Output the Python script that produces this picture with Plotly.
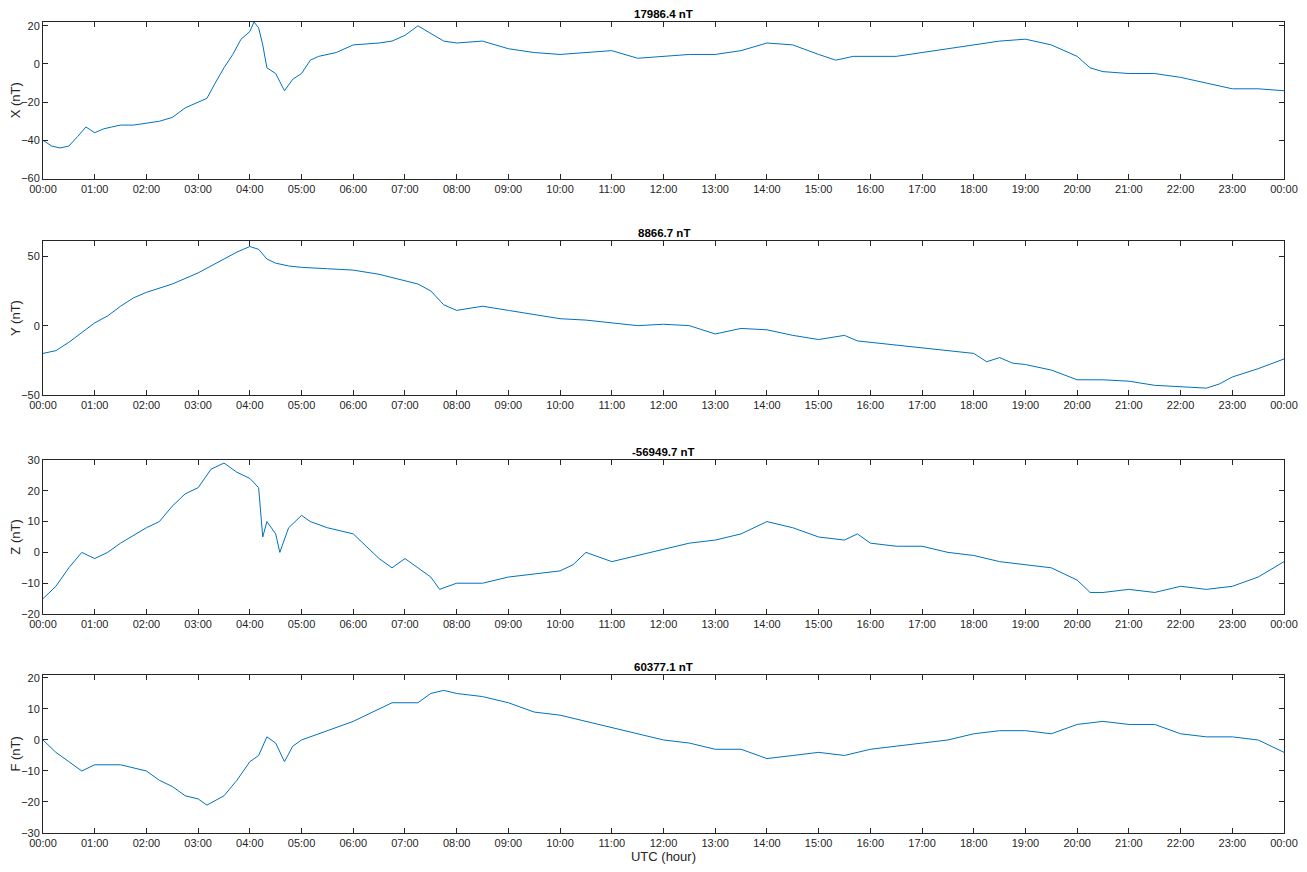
import pandas as pd
import plotly.graph_objects as go

# hour-of-day sample times and values (nT, baseline removed)
x_hours = [0, 0.17, 0.33, 0.5, 0.67, 0.83, 1, 1.17, 1.33, 1.5, 1.75, 2, 2.25, 2.5, 2.75, 3, 3.17, 3.33, 3.5,
           3.67, 3.83, 4, 4.08, 4.17, 4.25, 4.33, 4.5, 4.67, 4.83, 5, 5.17, 5.33, 5.67, 6, 6.5, 6.75, 7, 7.25,
           7.5, 7.75, 8, 8.5, 9, 9.5, 10, 10.5, 11, 11.5, 12, 12.5, 13, 13.5, 14, 14.5, 15, 15.33, 15.67, 16,
           16.5, 17, 17.5, 18, 18.5, 19, 19.5, 20, 20.25, 20.5, 21, 21.5, 22, 22.5, 23, 23.5, 24]
x_vals = [-40, -43, -44, -43, -38, -33, -36, -34, -33, -32, -32, -31, -30, -28, -23, -20, -18, -10, -2,
          5, 13, 17, 22, 19, 10, -2, -5, -14, -8, -5, 2, 4, 6, 10, 11, 12, 15, 20,
          16, 12, 11, 12, 8, 6, 5, 6, 7, 3, 4, 5, 5, 7, 11, 10, 5, 2, 4,
          4, 4, 6, 8, 10, 12, 13, 10, 4, -2, -4, -5, -5, -7, -10, -13, -13, -14]

y_hours = [0, 0.25, 0.5, 0.75, 1, 1.25, 1.5, 1.75, 2, 2.5, 3, 3.5, 3.75, 4, 4.17, 4.33, 4.5, 4.75, 5, 5.5,
           6, 6.5, 7, 7.25, 7.5, 7.75, 8, 8.5, 9, 9.5, 10, 10.5, 11, 11.5, 12, 12.5, 13, 13.5, 14, 14.5,
           15, 15.5, 15.75, 16, 16.5, 17, 17.5, 18, 18.25, 18.5, 18.75, 19, 19.5, 20, 20.5, 21, 21.5, 22,
           22.5, 22.75, 23, 23.5, 24]
y_vals = [-20, -18, -12, -5, 2, 7, 14, 20, 24, 30, 38, 48, 53, 57, 55, 48, 45, 43, 42, 41,
          40, 37, 32, 30, 25, 15, 11, 14, 11, 8, 5, 4, 2, 0, 1, 0, -6, -2, -3, -7,
          -10, -7, -11, -12, -14, -16, -18, -20, -26, -23, -27, -28, -32, -39, -39, -40, -43, -44,
          -45, -42, -37, -31, -24]

z_hours = [0, 0.25, 0.5, 0.75, 1, 1.25, 1.5, 2, 2.25, 2.5, 2.75, 3, 3.25, 3.5, 3.75, 4, 4.17, 4.25, 4.33,
           4.5, 4.58, 4.75, 5, 5.17, 5.5, 6, 6.25, 6.5, 6.75, 7, 7.25, 7.5, 7.67, 8, 8.5, 9, 9.5, 10,
           10.25, 10.5, 11, 11.5, 12, 12.5, 13, 13.5, 14, 14.5, 15, 15.5, 15.75, 16, 16.5, 17, 17.5, 18,
           18.5, 19, 19.5, 20, 20.25, 20.5, 21, 21.5, 22, 22.5, 23, 23.5, 24]
z_vals = [-15, -11, -5, 0, -2, 0, 3, 8, 10, 15, 19, 21, 27, 29, 26, 24, 21, 5, 10,
          6, 0, 8, 12, 10, 8, 6, 2, -2, -5, -2, -5, -8, -12, -10, -10, -8, -7, -6,
          -4, 0, -3, -1, 1, 3, 4, 6, 10, 8, 5, 4, 6, 3, 2, 2, 0, -1,
          -3, -4, -5, -9, -13, -13, -12, -13, -11, -12, -11, -8, -3]

f_hours = [0, 0.25, 0.5, 0.75, 1, 1.5, 2, 2.25, 2.5, 2.75, 3, 3.17, 3.5, 3.75, 4, 4.17, 4.33, 4.5, 4.67,
           4.83, 5, 5.5, 6, 6.5, 6.75, 7, 7.25, 7.5, 7.75, 8, 8.5, 9, 9.5, 10, 10.5, 11, 11.5, 12, 12.5,
           13, 13.5, 14, 14.5, 15, 15.5, 16, 16.5, 17, 17.5, 18, 18.5, 19, 19.5, 20, 20.5, 21, 21.5, 22,
           22.5, 23, 23.5, 24]
f_vals = [0, -4, -7, -10, -8, -8, -10, -13, -15, -18, -19, -21, -18, -13, -7, -5, 1, -1, -7,
          -2, 0, 3, 6, 10, 12, 12, 12, 15, 16, 15, 14, 12, 9, 8, 6, 4, 2, 0, -1,
          -3, -3, -6, -5, -4, -5, -3, -2, -1, 0, 2, 3, 3, 2, 5, 6, 5, 5, 2,
          1, 1, 0, -4]

titles = ["17986.4 nT", "8866.7 nT", "-56949.7 nT", "60377.1 nT"]
ylabels = ["X (nT)", "Y (nT)", "Z (nT)", "F (nT)"]
yranges = [[-60, 22], [-50, 61], [-20, 30], [-30, 21]]
yticks = [[-60, -40, -20, 0, 20], [-50, 0, 50], [-20, -10, 0, 10, 20, 30], [-30, -20, -10, 0, 10, 20]]
domains = [[0.807, 1.0], [0.540, 0.730], [0.270, 0.460], [0.0, 0.195]]

day = pd.Timestamp("2020-01-01")
def to_time(hours):
    return [day + pd.Timedelta(hours=h) for h in hours]

series = [(x_hours, x_vals), (y_hours, y_vals), (z_hours, z_vals), (f_hours, f_vals)]

fig = go.Figure()
# page has an 8px body margin, so the figure is shrunk to fit the window
layout = dict(
    width=1291, height=856, plot_bgcolor="white", paper_bgcolor="white",
    margin=dict(l=35, r=15, t=14, b=31), showlegend=False,
    font=dict(family="Liberation Sans, Arial", size=11, color="#262626"),
)
annotations = []
for i, (hrs, vals) in enumerate(series):
    n = "" if i == 0 else str(i + 1)
    fig.add_trace(go.Scatter(x=to_time(hrs), y=vals, mode="lines", xaxis="x" + n, yaxis="y" + n,
                             line=dict(color="#0072BD", width=1)))
    layout["xaxis" + n] = dict(
        anchor="y" + n, domain=[0, 1], type="date", automargin=False,
        range=[day, day + pd.Timedelta(hours=24)], dtick=3600000, tickformat="%H:%M",
        ticks="inside", ticklen=5, tickcolor="#262626", showline=True, linecolor="#262626",
        linewidth=1, mirror="ticks", showgrid=False, zeroline=False,
        title=dict(text="UTC (hour)", standoff=2) if i == 3 else None,
    )
    layout["yaxis" + n] = dict(
        anchor="x" + n, domain=domains[i], range=yranges[i], tickvals=yticks[i], automargin=False,
        ticks="inside", ticklen=5, tickcolor="#262626", showline=True, linecolor="#262626",
        linewidth=1, mirror="ticks", showgrid=False, zeroline=False,
        title=dict(text=ylabels[i], standoff=2),
    )
    annotations.append(dict(text="<b>" + titles[i] + "</b>", x=0.5, y=domains[i][1], xref="paper",
                            yref="paper", yanchor="bottom", showarrow=False, borderpad=0, yshift=1,
                            font=dict(size=11.5, color="black")))
layout["annotations"] = annotations
fig.update_layout(**layout)
fig.write_html("out.html")
